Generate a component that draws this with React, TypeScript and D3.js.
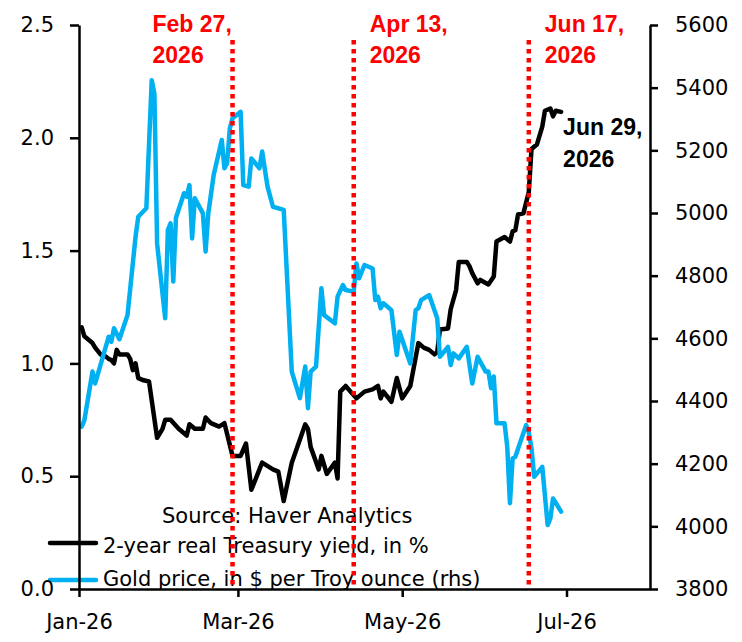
import React, { useEffect, useRef } from 'react';
import * as d3 from 'd3';

// 2-year real Treasury yield, % (left axis)
const yieldDates = [
  '2026-01-02', '2026-01-03', '2026-01-05', '2026-01-06', '2026-01-07', '2026-01-09', '2026-01-11', '2026-01-12',
  '2026-01-13', '2026-01-14', '2026-01-15', '2026-01-16', '2026-01-19', '2026-01-20', '2026-01-21', '2026-01-22',
  '2026-01-23', '2026-01-25', '2026-01-27', '2026-01-30', '2026-02-01', '2026-02-02', '2026-02-04', '2026-02-07',
  '2026-02-10', '2026-02-11', '2026-02-13', '2026-02-16', '2026-02-17', '2026-02-19', '2026-02-22', '2026-02-24',
  '2026-02-27', '2026-03-02', '2026-03-04', '2026-03-06', '2026-03-10', '2026-03-14', '2026-03-16', '2026-03-18',
  '2026-03-21', '2026-03-26', '2026-03-27', '2026-03-28', '2026-03-31', '2026-04-01', '2026-04-03', '2026-04-06',
  '2026-04-07', '2026-04-08', '2026-04-10', '2026-04-14', '2026-04-17', '2026-04-20', '2026-04-22', '2026-04-23',
  '2026-04-24', '2026-04-27', '2026-04-29', '2026-05-01', '2026-05-04', '2026-05-07', '2026-05-09', '2026-05-11',
  '2026-05-13', '2026-05-14', '2026-05-15', '2026-05-18', '2026-05-19', '2026-05-21', '2026-05-22', '2026-05-25',
  '2026-05-26', '2026-05-27', '2026-05-29', '2026-05-30', '2026-06-02', '2026-06-04', '2026-06-05', '2026-06-08',
  '2026-06-10', '2026-06-11', '2026-06-12', '2026-06-13', '2026-06-15', '2026-06-17', '2026-06-18', '2026-06-19',
  '2026-06-20', '2026-06-22', '2026-06-23', '2026-06-25', '2026-06-26', '2026-06-27', '2026-06-29',
];
const yieldValues = [
  1.16, 1.12, 1.10, 1.09, 1.07, 1.04, 1.03, 1.02,
  1.015, 1.00, 1.06, 1.04, 1.04, 1.02, 0.97, 1.00,
  0.935, 0.925, 0.92, 0.67, 0.71, 0.75, 0.75, 0.71,
  0.68, 0.73, 0.71, 0.71, 0.76, 0.735, 0.72, 0.735,
  0.59, 0.59, 0.645, 0.44, 0.56, 0.53, 0.52, 0.39,
  0.56, 0.73, 0.71, 0.63, 0.53, 0.59, 0.51, 0.56,
  0.49, 0.875, 0.90, 0.845, 0.875, 0.885, 0.90, 0.845,
  0.875, 0.83, 0.935, 0.845, 0.90, 1.09, 1.07, 1.06,
  1.04, 1.05, 1.15, 1.155, 1.24, 1.325, 1.45, 1.45,
  1.43, 1.40, 1.355, 1.37, 1.35, 1.385, 1.54, 1.56,
  1.54, 1.585, 1.59, 1.66, 1.665, 1.76, 1.95, 1.96,
  1.97, 2.05, 2.12, 2.13, 2.095, 2.12, 2.115,
];

// Gold price, $ per Troy ounce (right axis)
const goldDates = [
  '2026-01-02', '2026-01-03', '2026-01-06', '2026-01-07', '2026-01-12', '2026-01-13', '2026-01-14', '2026-01-16',
  '2026-01-19', '2026-01-22', '2026-01-23', '2026-01-26', '2026-01-28', '2026-01-29', '2026-01-30', '2026-02-02',
  '2026-02-03', '2026-02-04', '2026-02-05', '2026-02-06', '2026-02-09', '2026-02-10', '2026-02-11', '2026-02-12',
  '2026-02-13', '2026-02-16', '2026-02-17', '2026-02-18', '2026-02-20', '2026-02-23', '2026-02-24', '2026-02-25',
  '2026-02-26', '2026-02-27', '2026-03-02', '2026-03-03', '2026-03-05', '2026-03-06', '2026-03-09', '2026-03-10',
  '2026-03-12', '2026-03-14', '2026-03-18', '2026-03-21', '2026-03-24', '2026-03-26', '2026-03-27', '2026-03-28',
  '2026-03-30', '2026-04-01', '2026-04-02', '2026-04-06', '2026-04-07', '2026-04-09', '2026-04-10', '2026-04-13',
  '2026-04-14', '2026-04-15', '2026-04-17', '2026-04-20', '2026-04-21', '2026-04-22', '2026-04-23', '2026-04-24',
  '2026-04-27', '2026-04-29', '2026-04-30', '2026-05-04', '2026-05-06', '2026-05-07', '2026-05-08', '2026-05-11',
  '2026-05-14', '2026-05-15', '2026-05-18', '2026-05-19', '2026-05-20', '2026-05-22', '2026-05-25', '2026-05-27',
  '2026-05-29', '2026-06-01', '2026-06-02', '2026-06-03', '2026-06-04', '2026-06-05', '2026-06-08', '2026-06-09',
  '2026-06-10', '2026-06-11', '2026-06-12', '2026-06-16', '2026-06-17', '2026-06-18', '2026-06-19', '2026-06-22',
  '2026-06-24', '2026-06-25', '2026-06-26', '2026-06-29',
];
const goldValues = [
  4318, 4339, 4494, 4456, 4605, 4589, 4632, 4597,
  4674, 4924, 4988, 5015, 5424, 5380, 4903, 4664,
  4946, 4967, 4781, 4985, 5063, 5052, 5089, 4919,
  5047, 4999, 4877, 4999, 5121, 5233, 5143, 5159,
  5270, 5302, 5323, 5089, 5084, 5174, 5143, 5196,
  5084, 5020, 5010, 4494, 4409, 4510, 4377, 4494,
  4510, 4760, 4674, 4648, 4733, 4770, 4754, 4749,
  4839, 4792, 4834, 4823, 4722, 4733, 4696, 4712,
  4690, 4547, 4621, 4520, 4690, 4696, 4722, 4738,
  4664, 4541, 4573, 4515, 4552, 4536, 4573, 4456,
  4541, 4494, 4494, 4441, 4478, 4329, 4329, 4254,
  4074, 4217, 4222, 4323, 4300, 4249, 4158, 4190,
  4004, 4025, 4089, 4047,
];

const leftTicks = [0, 0.5, 1.0, 1.5, 2.0, 2.5];
const rightTicks = [3800, 4000, 4200, 4400, 4600, 4800, 5000, 5200, 5400, 5600];
const monthTicks = ['2026-01-01', '2026-03-01', '2026-05-01', '2026-07-01'];

const eventDates = ['2026-02-27', '2026-04-13', '2026-06-17'];
const eventLabels = [['Feb 27,', '2026'], ['Apr 13,', '2026'], ['Jun 17,', '2026']];
const endLabel = ['Jun 29,', '2026'];

const sourceText = 'Source: Haver Analytics';
const seriesNames = ['2-year real Treasury yield, in %', 'Gold price, in $ per Troy ounce (rhs)'];

const BLUE = '#00B0F0';
const RED = '#FF0000';
const FONT = '"DejaVu Sans", sans-serif';
const BOLD_FONT = '"Liberation Sans", Arial, sans-serif';

const width = 742;
const height = 642;
const left = 79;
const right = 650;
const top = 25;
const bottom = 589;

const parse = d3.utcParse('%Y-%m-%d');

const App = () => {
  const leftAxisRef = useRef<SVGGElement>(null);
  const rightAxisRef = useRef<SVGGElement>(null);
  const bottomAxisRef = useRef<SVGGElement>(null);

  const x = d3.scaleUtc()
    .domain([parse('2026-01-01')!, parse('2026-08-01')!])
    .range([left, right]);
  const yLeft = d3.scaleLinear().domain([0, 2.5]).range([bottom, top]);
  const yRight = d3.scaleLinear().domain([3800, 5600]).range([bottom, top]);

  const yieldData = yieldDates.map((d, i) => ({ date: parse(d)!, value: yieldValues[i] }));
  const goldData = goldDates.map((d, i) => ({ date: parse(d)!, value: goldValues[i] }));

  const yieldLine = d3.line<{ date: Date; value: number }>()
    .x(d => x(d.date))
    .y(d => yLeft(d.value));
  const goldLine = d3.line<{ date: Date; value: number }>()
    .x(d => x(d.date))
    .y(d => yRight(d.value));

  useEffect(() => {
    const styleAxis = (g: d3.Selection<SVGGElement, unknown, null, undefined>) => {
      g.selectAll('.domain').attr('stroke', '#000').attr('stroke-width', 2.5);
      g.selectAll('.tick line').attr('stroke', '#000').attr('stroke-width', 2.5);
      g.selectAll('.tick text')
        .attr('fill', '#000')
        .style('font-family', FONT)
        .style('font-size', '21px');
    };

    d3.select(leftAxisRef.current!)
      .call(d3.axisLeft(yLeft).tickValues(leftTicks).tickSize(9).tickSizeOuter(0)
        .tickPadding(16).tickFormat(d => d3.format('.1f')(d as number)))
      .call(styleAxis);

    d3.select(rightAxisRef.current!)
      .call(d3.axisRight(yRight).tickValues(rightTicks).tickSize(8).tickSizeOuter(0)
        .tickPadding(17).tickFormat(d => String(d)))
      .call(styleAxis);

    d3.select(bottomAxisRef.current!)
      .call(d3.axisBottom(x).tickValues(monthTicks.map(d => parse(d)!)).tickSize(8).tickSizeOuter(0)
        .tickPadding(17).tickFormat(d => d3.utcFormat('%b-%y')(d as Date)))
      .call(styleAxis);
  }, []);

  const last = yieldData[yieldData.length - 1];

  return (
    <svg width={width} height={height} style={{ position: 'absolute', left: 0, top: 0, background: '#fff' }}>
      <rect width={width} height={height} fill="#fff" />

      {/* legend */}
      <g style={{ fontFamily: FONT, fontSize: 21 }} fill="#000">
        <text x={162} y={523}>{sourceText}</text>
        <line x1={50} x2={96} y1={543} y2={543} stroke="#000" strokeWidth={4.5} strokeLinecap="round" />
        <text x={103} y={553}>{seriesNames[0]}</text>
        <line x1={50} x2={96} y1={580} y2={580} stroke={BLUE} strokeWidth={4.5} strokeLinecap="round" />
        <text x={103} y={586}>{seriesNames[1]}</text>
      </g>

      <path d={yieldLine(yieldData) ?? ''} fill="none" stroke="#000" strokeWidth={4.5}
        strokeLinejoin="round" strokeLinecap="round" />
      <path d={goldLine(goldData) ?? ''} fill="none" stroke={BLUE} strokeWidth={4.5}
        strokeLinejoin="round" strokeLinecap="round" />

      <g ref={bottomAxisRef} transform={`translate(0,${bottom})`} />
      <g ref={leftAxisRef} transform={`translate(${left},0)`} />
      <g ref={rightAxisRef} transform={`translate(${right},0)`} />

      {/* event markers: first label sits left of its line, the others to the right */}
      {eventDates.map((d, i) => {
        const ex = x(parse(d)!);
        const tx = i === 0 ? ex - 80 : ex + 16;
        return (
          <g key={d}>
            <line x1={ex} x2={ex} y1={40} y2={bottom} stroke={RED} strokeWidth={4.5} strokeDasharray="4.5 4.5" />
            <text x={tx} y={32} fill={RED}
              style={{ fontFamily: BOLD_FONT, fontSize: 23, fontWeight: 'bold' }}>
              <tspan x={tx}>{eventLabels[i][0]}</tspan>
              <tspan x={tx} dy={31}>{eventLabels[i][1]}</tspan>
            </text>
          </g>
        );
      })}

      <text x={x(last.date) + 2} y={yLeft(last.value) + 23} fill="#000"
        style={{ fontFamily: BOLD_FONT, fontSize: 23, fontWeight: 'bold' }}>
        <tspan x={x(last.date) + 2}>{endLabel[0]}</tspan>
        <tspan x={x(last.date) + 2} dy={32}>{endLabel[1]}</tspan>
      </text>
    </svg>
  );
};

export default App;
